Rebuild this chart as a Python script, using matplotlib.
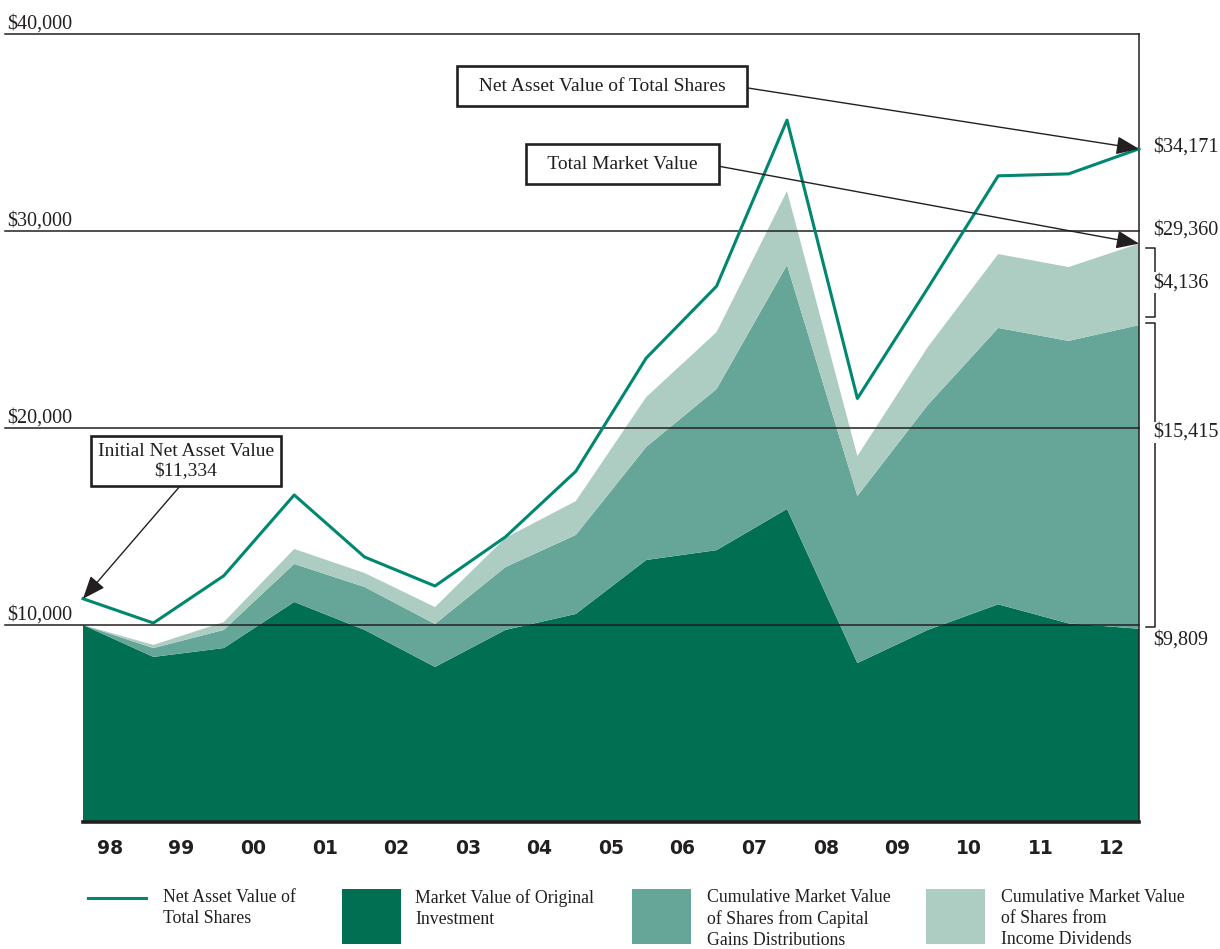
import numpy as np
import matplotlib.pyplot as plt
from matplotlib.patches import Rectangle
from matplotlib.lines import Line2D

# values (year-end points, start of 98 .. end of 12)
years = ['98', '99', '00', '01', '02', '03', '04', '05',
         '06', '07', '08', '09', '10', '11', '12']
nav = [11334, 10100, 12500, 16600, 13450, 11980, 14470, 17800,
       23550, 27200, 35630, 21500, 27100, 32800, 32900, 34171]
original = [10000, 8380, 8830, 11170, 9750, 7870, 9750, 10560,
            13300, 13800, 15890, 8070, 9750, 11050, 10080, 9809]
cap_gains = [0, 450, 920, 1930, 2180, 2180, 3190, 4010,
             5740, 8180, 12380, 8480, 11420, 14030, 14340, 15415]
dividends = [0, 160, 400, 760, 710, 860, 1480, 1720,
             2530, 2890, 3760, 2030, 2940, 3750, 3750, 4136]
gridvals = [10000, 20000, 30000, 40000]

legend_labels = ['Net Asset Value of\nTotal Shares',
                 'Market Value of Original\nInvestment',
                 'Cumulative Market Value\nof Shares from Capital\nGains Distributions',
                 'Cumulative Market Value\nof Shares from\nIncome Dividends']

dark = '#006f52'
mid = '#66a699'
light = '#adcdc3'
teal = '#00876f'
ink = '#231f20'
serif = 'Liberation Serif'
fs = 14.5

W, H = 1220, 949
fig = plt.figure(figsize=(W / 100, H / 100), dpi=100)
ax = fig.add_axes([83 / W, (H - 822) / H, (1139 - 83) / W, (822 - 34) / H])
ax.set_xlim(0, 15)
ax.set_ylim(0, 40000)
ax.axis('off')

x = np.arange(len(nav))
ax.stackplot(x, original, cap_gains, dividends, colors=[dark, mid, light], lw=0, zorder=1)

# grid lines and left labels
for v in gridvals:
    ax.plot([-1.11, 15], [v, v], color=ink, lw=1.1, clip_on=False, zorder=3)
    ax.text(-1.07, v + 260, f'${v:,}', family=serif, fontsize=fs, color=ink,
            ha='left', va='baseline', clip_on=False)
ax.plot([15, 15], [0, 40000], color=ink, lw=1.1, clip_on=False, zorder=3)
ax.plot([0, 15], [0, 0], color=ink, lw=2.6, clip_on=False, zorder=3)

ax.plot(x, nav, color=teal, lw=2.2, zorder=4, clip_on=False)

# year labels
for pos, yr in zip(np.linspace(0.38, 14.62, len(years)), years):
    ax.text(pos, -1320, yr, family='DejaVu Sans', fontweight='bold', fontsize=13.5,
            color=ink, ha='center', va='center', clip_on=False)

# right-hand values and brackets
total_end = original[-1] + cap_gains[-1] + dividends[-1]
mid_end = original[-1] + cap_gains[-1]
ax.text(15.2, nav[-1] + 100, f'${nav[-1]:,}', family=serif, fontsize=fs,
        color=ink, va='center', clip_on=False)
ax.text(15.2, total_end + 690, f'${total_end:,}', family=serif, fontsize=fs,
        color=ink, va='center', clip_on=False)
ax.text(15.2, original[-1] - 570, f'${original[-1]:,}', family=serif, fontsize=fs,
        color=ink, va='center', clip_on=False)


def bracket(top, bottom, label, frac):
    ax.plot([15.1, 15.23, 15.23, 15.1], [top, top, bottom, bottom],
            color=ink, lw=1.1, clip_on=False, zorder=3)
    ax.text(15.2, bottom + frac * (top - bottom), label, family=serif, fontsize=fs,
            color=ink, va='center', clip_on=False, zorder=5,
            bbox=dict(fc='white', ec='none', pad=1))


bracket(total_end - 220, mid_end + 400, f'${dividends[-1]:,}', 0.5)
bracket(mid_end + 100, original[-1] + 90, f'${cap_gains[-1]:,}', 0.64)

# call-out boxes
box = dict(boxstyle='square,pad=0.6', fc='white', ec=ink, lw=1.9)
arrow = dict(arrowstyle='-|>,head_length=1.0,head_width=0.4', color=ink, lw=1.0,
             shrinkA=0, shrinkB=0)
ax.annotate('  Net Asset Value of Total Shares  ', xy=(15, nav[-1]), xytext=(7.37, 37360),
            ha='center', va='center', family=serif, fontsize=14, color=ink,
            bbox=box, arrowprops=dict(arrow, relpos=(1, 0.5)), annotation_clip=False, zorder=6)
ax.annotate('  Total Market Value  ', xy=(15, total_end), xytext=(7.66, 33400),
            ha='center', va='center', family=serif, fontsize=14, color=ink,
            bbox=box, arrowprops=dict(arrow, relpos=(1, 0.5)), annotation_clip=False, zorder=6)
ax.annotate(f'Initial Net Asset Value\n${nav[0]:,}', xy=(0, nav[0]), xytext=(1.46, 18320),
            ha='center', va='center', family=serif, fontsize=14, color=ink, linespacing=1.2,
            bbox=dict(box, boxstyle='square,pad=0.36'),
            arrowprops=dict(arrow, relpos=(0.5, 0)), annotation_clip=False, zorder=6)

# legend along the bottom
def fx(px):
    return px / W


def fy(py):
    return 1 - py / H


fig.add_artist(Line2D([fx(88), fx(146)], [fy(898), fy(898)], color=teal, lw=2.2))
for left, col in [(342, dark), (632, mid), (926, light)]:
    fig.add_artist(Rectangle((fx(left), fy(944)), fx(59), 55 / H, color=col, lw=0))
for left, lab in zip([163, 415, 707, 1001], legend_labels):
    fig.text(fx(left), fy(889), lab, family=serif, fontsize=12.8, color=ink,
             ha='left', va='top', linespacing=1.32)

fig.savefig('out.png', dpi=100)
